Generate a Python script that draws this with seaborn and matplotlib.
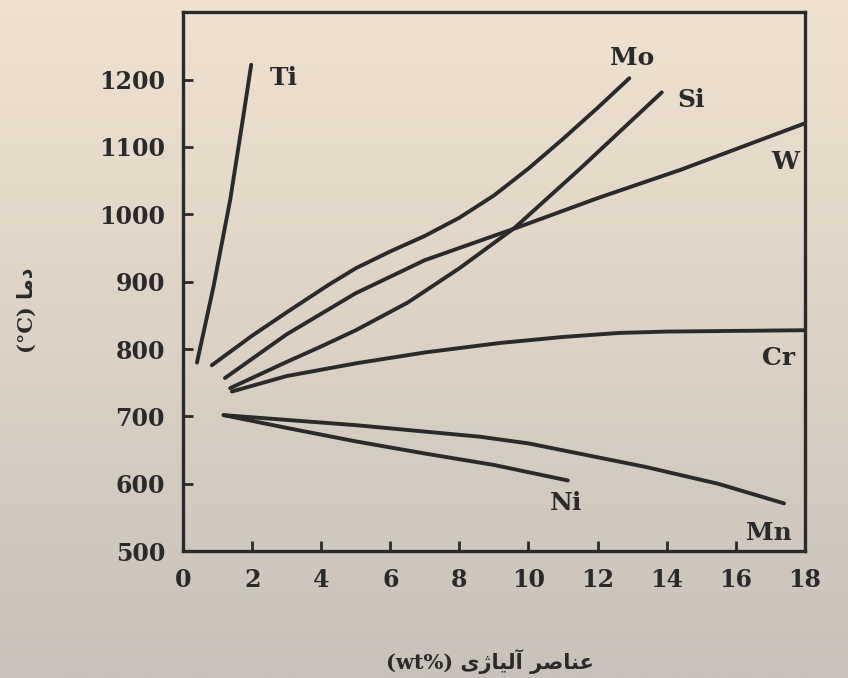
import numpy as np
import pandas as pd
import matplotlib
matplotlib.use("Agg")
import matplotlib.pyplot as plt
import seaborn as sns

# valores (wt% x temperatura °C)
ti_x = [0.4, 0.88, 1.36, 1.74, 1.97]
ti_y = [780, 893, 1021, 1145, 1222]
mo_x = [0.83, 2.0, 3.1, 4.2, 5.0, 6.0, 7.0, 8.0, 9.0, 10.0, 11.0, 12.0, 12.92]
mo_y = [776, 820, 858, 895, 920, 945, 968, 995, 1028, 1068, 1112, 1158, 1202]
si_x = [1.36, 3.0, 4.0, 5.0, 6.5, 8.0, 9.6, 11.5, 13.86]
si_y = [742, 781, 804, 828, 869, 920, 980, 1068, 1181]
w_x = [1.21, 3.0, 5.0, 7.0, 9.6, 12.0, 14.4, 18.0]
w_y = [757, 822, 883, 932, 979, 1024, 1066, 1135]
cr_x = [1.41, 3.0, 5.02, 7.0, 9.16, 11.0, 12.63, 14.0, 18.0]
cr_y = [737, 760, 779, 795, 809, 818, 824, 826, 828]
ni_x = [1.17, 3.0, 5.0, 7.0, 9.0, 11.14]
ni_y = [702, 683, 663, 645, 628, 605]
mn_x = [1.17, 5.02, 8.58, 10.0, 13.4, 15.5, 17.4]
mn_y = [702, 687, 670, 660, 625, 600, 571]

elementos = ["Ti", "Mo", "Si", "W", "Cr", "Ni", "Mn"]
# posição dos rótulos das curvas
rotulo_x = [2.5, 13.0, 14.7, 17.45, 17.25, 11.1, 16.95]
rotulo_y = [1203, 1232, 1170, 1078, 787, 571, 527]

x_ticks = list(range(0, 19, 2))
y_ticks = list(range(500, 1201, 100))

# rótulos em persa (formas de apresentação, ordem visual)
rotulo_eixo_x = "(wt%) " + "\uFEEF\uFB8A\uFE8E\uFEF4\uFEDF\uFE81" + " " + "\uFEAE\uFEBB\uFE8E\uFEE8\uFECB"
rotulo_eixo_y = "(°C) " + "\uFE8E\uFEE3\uFEA9"

series = {
    "Ti": (ti_x, ti_y), "Mo": (mo_x, mo_y), "Si": (si_x, si_y), "W": (w_x, w_y),
    "Cr": (cr_x, cr_y), "Ni": (ni_x, ni_y), "Mn": (mn_x, mn_y),
}
df = pd.concat(
    [pd.DataFrame({"wt": xs, "temp": ys, "elemento": nome}) for nome, (xs, ys) in series.items()],
    ignore_index=True,
)

sns.set_style("ticks")
plt.rcParams["font.family"] = ["DejaVu Serif", "DejaVu Sans"]
cor = "#2a2a2a"

fig = plt.figure(figsize=(8.48, 6.78), dpi=100)

# fundo tipo papel fotografado
fundo = fig.add_axes([0, 0, 1, 1])
grad = np.linspace(0, 1, 256)[:, None]
topo = np.array([240, 226, 208]) / 255
base = np.array([200, 194, 186]) / 255
img = topo[None, None, :] * (1 - grad[:, :, None]) + base[None, None, :] * grad[:, :, None]
fundo.imshow(img, aspect="auto", extent=[0, 1, 0, 1])
fundo.axis("off")

ax = fig.add_axes([0.216, 0.187, 0.733, 0.795])
ax.set_facecolor("none")

sns.lineplot(
    data=df, x="wt", y="temp", hue="elemento", hue_order=elementos,
    palette=[cor] * len(elementos), estimator=None, sort=False,
    linewidth=2.8, legend=False, ax=ax,
)
for ln in ax.get_lines():
    ln.set_solid_joinstyle("round")
    ln.set_solid_capstyle("round")

for nome, tx, ty in zip(elementos, rotulo_x, rotulo_y):
    ax.text(tx, ty, nome, fontsize=18, fontweight="bold", color=cor,
            ha="left" if nome == "Ti" else "center", va="center")

ax.set_xlim(0, 18)
ax.set_ylim(500, 1300)
ax.set_xticks(x_ticks)
ax.set_yticks(y_ticks)
ax.tick_params(axis="both", direction="in", length=7, width=2, color=cor,
               labelsize=17, labelcolor=cor)
ax.tick_params(axis="x", pad=12)
ax.tick_params(axis="y", pad=13)
for lab in ax.get_xticklabels() + ax.get_yticklabels():
    lab.set_fontweight("bold")
for sp in ax.spines.values():
    sp.set_visible(True)
    sp.set_linewidth(2.4)
    sp.set_color(cor)

ax.set_xlabel(rotulo_eixo_x, fontsize=15, fontweight="bold", color=cor)
ax.set_ylabel(rotulo_eixo_y, fontsize=15, fontweight="bold", color=cor)
ax.xaxis.set_label_coords(0.494, -0.182)
ax.yaxis.set_label_coords(-0.236, 0.447)

fig.savefig("out.png", dpi=100)
